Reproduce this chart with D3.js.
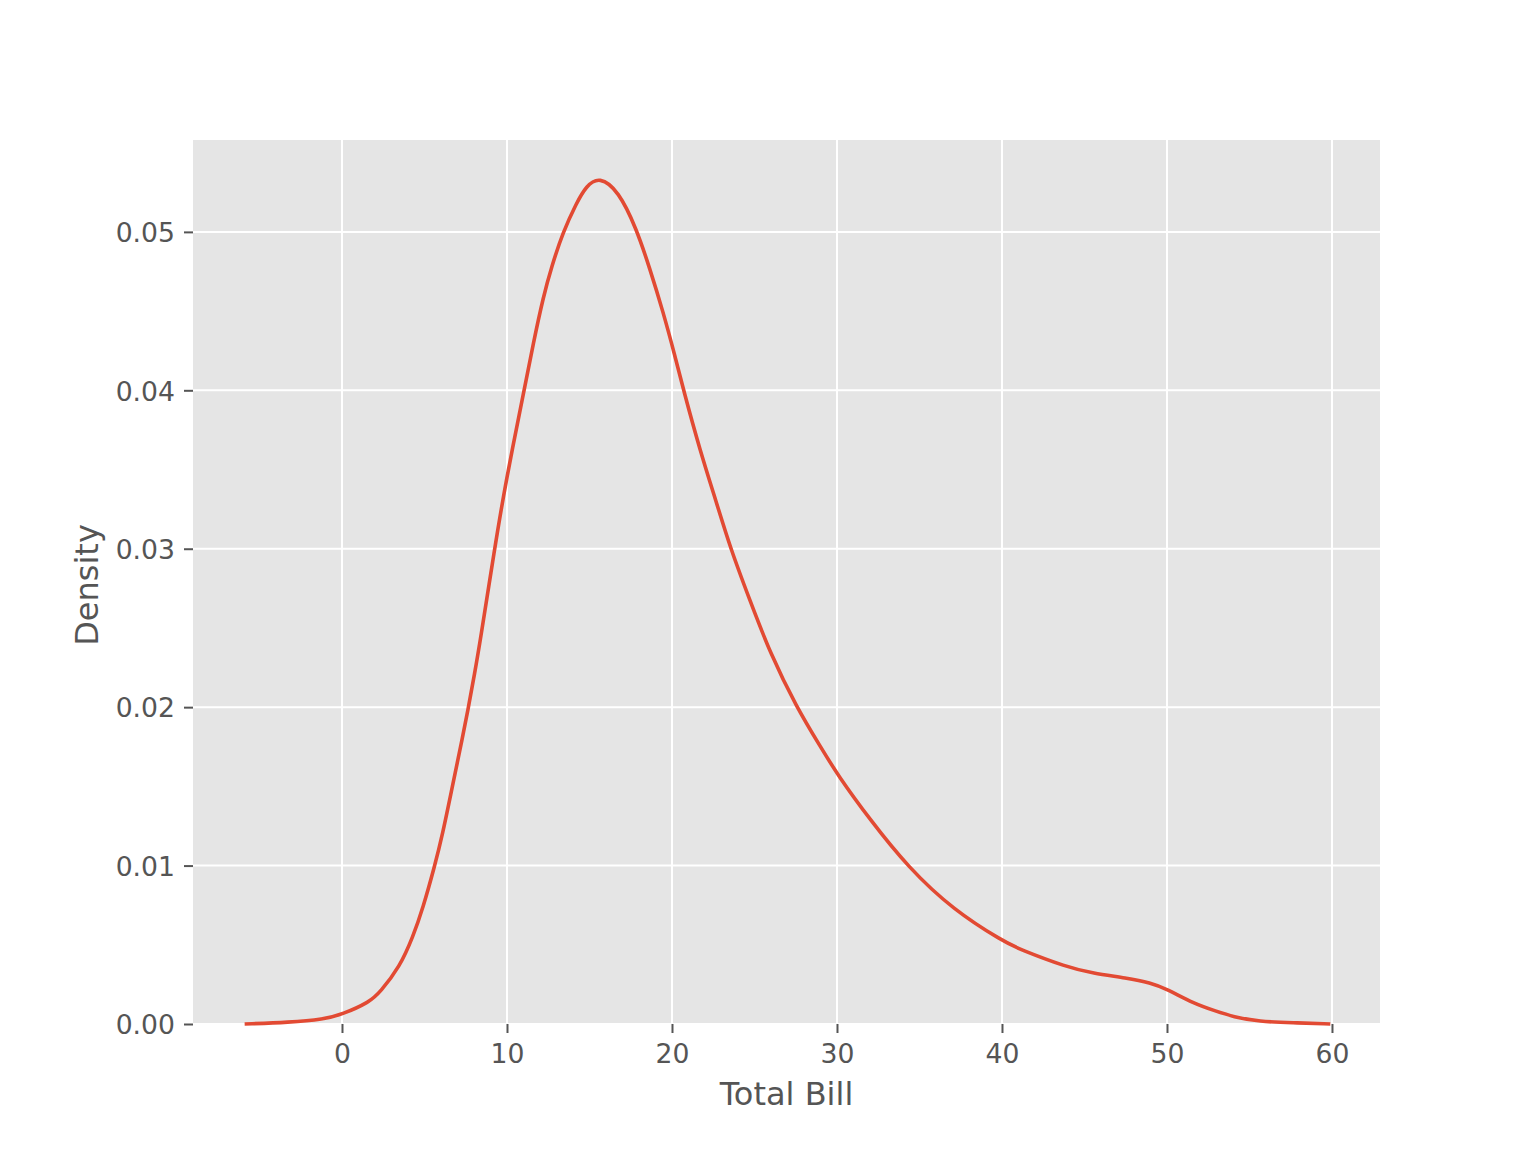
<!DOCTYPE html>
<html><head><meta charset="utf-8">
<script src="https://cdn.jsdelivr.net/npm/d3@7"></script>
<style>body{margin:0;background:#fff}svg{display:block}text{font-family:"DejaVu Sans",sans-serif;fill:#555555}</style>
</head><body>
<script>
const billValues = [-5.9,-3.2,-1.1,0,1.7,2.3,3.5,4.3,4.9,5.6,6.1,6.65,7.15,7.65,8.05,8.35,9.25,9.9,11.0,11.6,12.2,12.7,13.4,14.2,14.8,15.6,16.75,17.85,18.65,19.45,20.2,20.7,21.7,22.7,23.55,24.7,25.95,27.55,29.0,30.05,32.0,34.3,37.05,40.1,41.1,43.9,45.5,47.55,49.0,50.0,51.6,53.0,54.0,55.6,57.6,59.9];
const densityValues = [0,0.0001,0.0003,0.0006,0.0014,0.002,0.0036,0.0055,0.0073,0.0099,0.012,0.0148,0.0173,0.0199,0.0222,0.024,0.03,0.0341,0.0398,0.043,0.0459,0.0478,0.05,0.0518,0.0529,0.0535,0.0526,0.0502,0.0477,0.045,0.0421,0.04,0.0362,0.0329,0.03,0.0268,0.0234,0.02,0.0175,0.0157,0.0129,0.0099,0.0072,0.0052,0.0047,0.0036,0.0032,0.0029,0.0026,0.0022,0.0013,0.0008,0.00046,0.00015,0.00008,0];
const xTicks = [0,10,20,30,40,50,60];
const yTicks = [0,0.01,0.02,0.03,0.04,0.05];
const xDomain = [-9.03,62.91];
const yDomain = [0,0.0558];
const xLabel = "Total Bill", yLabel = "Density";

const W=1536,H=1152, L=193,R=1380,T=140,B=1024;
const svg=d3.select("body").append("svg").attr("width",W).attr("height",H);
const x=d3.scaleLinear().domain(xDomain).range([L,R]);
const y=d3.scaleLinear().domain(yDomain).range([B,T]);

svg.append("rect").attr("x",L).attr("y",T).attr("width",R-L).attr("height",B-T).attr("fill","#E5E5E5");
const g=svg.append("g");
g.selectAll(".gx").data(xTicks).join("line").attr("x1",d=>x(d)).attr("x2",d=>x(d)).attr("y1",T).attr("y2",B).attr("stroke","#fff").attr("stroke-width",2);
g.selectAll(".gy").data(yTicks).join("line").attr("y1",d=>y(d)).attr("y2",d=>y(d)).attr("x1",L).attr("x2",R).attr("stroke","#fff").attr("stroke-width",2);

const xa=svg.append("g").attr("transform",`translate(0,${B})`).call(d3.axisBottom(x).tickValues(xTicks).tickSize(9).tickPadding(9).tickFormat(d3.format("d")));
const ya=svg.append("g").attr("transform",`translate(${L},0)`).call(d3.axisLeft(y).tickValues(yTicks).tickSize(9).tickPadding(9).tickFormat(d3.format(".2f")));
[xa,ya].forEach(a=>{a.select(".domain").remove();a.selectAll(".tick line").attr("stroke","#555555").attr("stroke-width",2);a.selectAll("text").attr("font-size",26.67).attr("fill","#555555").attr("font-family","DejaVu Sans");});
xa.selectAll("text").attr("y",39).attr("dy",0);
ya.selectAll("text").attr("dy","0.365em");

const pts=billValues.map((v,i)=>[v,densityValues[i]]);
svg.append("path").datum(pts).attr("fill","none").attr("stroke","#E24A33").attr("stroke-width",3.6).attr("stroke-linejoin","round").attr("stroke-linecap","butt")
 .attr("d",d3.line().x(d=>x(d[0])).y(d=>y(d[1])).curve(d3.curveBasis));

svg.append("text").attr("x",(L+R)/2).attr("y",1105).attr("text-anchor","middle").attr("font-size",32).text(xLabel);
svg.append("text").attr("transform",`translate(98,585) rotate(-90)`).attr("text-anchor","middle").attr("font-size",32).text(yLabel);
</script>
</body></html>
